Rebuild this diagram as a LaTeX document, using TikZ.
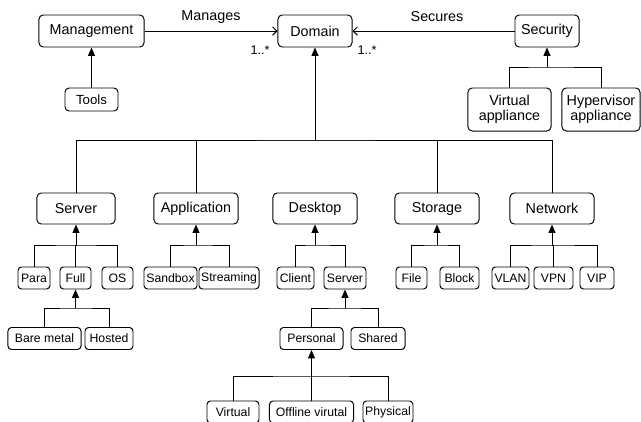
\documentclass[tikz,border=0pt]{standalone}
\usepackage{fontspec}
\setmainfont{Liberation Sans}
\usetikzlibrary{arrows.meta,positioning}
\tikzset{
    cls/.style={
    rectangle,rounded corners=3pt,draw=black,line width=0.7pt,minimum height=0.8cm,inner sep=1pt,align=center,font=\fontsize{10.2}{10.8}\selectfont
    },
    leaf/.style={
    rectangle,rounded corners=2.5pt,draw=black,line width=0.7pt,minimum height=0.55cm,inner sep=1pt,font=\fontsize{8.7}{10}\selectfont
    },
    lbl/.style={
    inner sep=1pt,font=\fontsize{10.2}{12}\selectfont
    },
    mult/.style={
    inner sep=1pt,font=\fontsize{9}{11}\selectfont
    },
    gen/.style={-{Triangle[length=6pt,width=5pt]}},
    assoc/.style={-{Straight Barb[length=3pt,width=6pt]}},
}
\begin{document}
\begin{tikzpicture}[x=0.025cm, y=-0.025cm, line width=0.7pt]
   \useasboundingbox (0,0) rectangle (641,422);
   % top row
   \node[cls,minimum width=2.625cm] (mgmt) at (91.5,31) {Management};
   \node[cls,minimum width=1.325cm,minimum height=0.575cm,font=\fontsize{9.4}{11}\selectfont] (tools) at (91.5,99.5) {Tools};
   \node[cls,minimum width=1.85cm] (dom) at (315,31) {Domain};
   \node[cls,minimum width=1.6cm] (sec) at (547,31) {Security};
   \node[cls,minimum width=2.075cm,minimum height=1.075cm] (va) at (509.5,109.5) {Virtual\\appliance};
   \node[cls,minimum width=1.95cm,minimum height=1.075cm] (ha) at (601,109.5) {Hypervisor\\appliance};

   % second row
   \node[cls,minimum width=1.95cm,minimum height=0.775cm] (srv) at (76,208.5) {Server};
   \node[cls,minimum width=2.1cm,minimum height=0.775cm] (app) at (196,208.5) {Application};
   \node[cls,minimum width=2.1cm,minimum height=0.775cm] (desk) at (315,208.5) {Desktop};
   \node[cls,minimum width=2.1cm,minimum height=0.775cm] (stor) at (437,208.5) {Storage};
   \node[cls,minimum width=2.1cm,minimum height=0.775cm] (net) at (552,208.5) {Network};

   % leaves
   \node[leaf,minimum width=0.8cm] (para) at (34,278) {Para};
   \node[leaf,minimum width=0.775cm] (full) at (75.5,278) {Full};
   \node[leaf,minimum width=0.775cm] (os) at (117.5,278) {OS};
   \node[leaf,minimum width=1.325cm] (sbox) at (170.5,278) {Sandbox};
   \node[leaf,minimum width=1.5cm] (strm) at (229,278) {Streaming};
   \node[leaf,minimum width=0.925cm] (client) at (295.5,278) {Client};
   \node[leaf,minimum width=1.05cm] (dsrv) at (345,278) {Server};
   \node[leaf,minimum width=0.775cm] (file) at (411.5,278) {File};
   \node[leaf,minimum width=0.975cm] (block) at (459.5,278) {Block};
   \node[leaf,minimum width=0.925cm] (vlan) at (510.5,278) {VLAN};
   \node[leaf,minimum width=0.975cm] (vpn) at (553.5,278) {VPN};
   \node[leaf,minimum width=0.85cm] (vip) at (597,278) {VIP};

   \node[leaf,minimum width=1.825cm] (bare) at (44.5,338.5) {Bare metal};
   \node[leaf,minimum width=1.2cm] (hosted) at (109,338.5) {Hosted};
   \node[leaf,minimum width=1.575cm] (pers) at (311.5,338.5) {Personal};
   \node[leaf,minimum width=1.35cm] (shared) at (378,338.5) {Shared};

   \node[leaf,minimum width=1.3cm] (virt) at (233,412) {Virtual};
   \node[leaf,minimum width=2.1cm] (offl) at (311.5,412) {Offline virutal};
   \node[leaf,minimum width=1.25cm] (phys) at (388,412) {Physical};

   % associations
   \draw[assoc] (mgmt) -- (dom);
   \draw[assoc] (sec) -- (dom);
   \node[lbl] (manages) at (211,17) {Manages};
   \node[lbl] (secures) at (437,17) {Secures};
   \node[mult] (m1) at (260,50) {1..*};
   \node[mult] (m2) at (367,50) {1..*};

   % generalisations
   \draw[gen] (tools) -- (mgmt);

   \coordinate (jsec) at (547,67);
   \draw[gen] (jsec) -- (sec);
   \draw (va.north) |- (jsec) -| (ha.north);

   \coordinate (jdom) at (315,140);
   \draw[gen] (jdom) -- (dom);
   \draw (srv.north) |- (jdom) -| (net.north);
   \draw (app.north) |- (jdom) -| (stor.north);

   \coordinate (jsrv) at (76,245);
   \draw[gen] (jsrv) -- (srv);
   \draw (para.north) |- (jsrv) -| (os.north);
   \draw (full.north) |- (jsrv);

   \coordinate (japp) at (196,245);
   \draw[gen] (japp) -- (app);
   \draw (sbox.north) |- (japp) -| (strm.north);

   \coordinate (jdesk) at (315,245);
   \draw[gen] (jdesk) -- (desk);
   \draw (client.north) |- (jdesk) -| (dsrv.north);

   \coordinate (jstor) at (437,245);
   \draw[gen] (jstor) -- (stor);
   \draw (file.north) |- (jstor) -| (block.north);

   \coordinate (jnet) at (552,245);
   \draw[gen] (jnet) -- (net);
   \draw (vlan.north) |- (jnet) -| (vip.north);
   \draw (vpn.north) |- (jnet);

   \coordinate (jfull) at (75.5,308);
   \draw[gen] (jfull) -- (full);
   \draw (bare.north) |- (jfull) -| (hosted.north);

   \coordinate (jdsrv) at (345,308);
   \draw[gen] (jdsrv) -- (dsrv);
   \draw (pers.north) |- (jdsrv) -| (shared.north);

   \coordinate (jpers) at (311.5,376);
   \draw[gen] (jpers) -- (pers);
   \draw (virt.north) |- (jpers) -| (phys.north);
   \draw (offl.north) |- (jpers);
\end{tikzpicture}
\end{document}
